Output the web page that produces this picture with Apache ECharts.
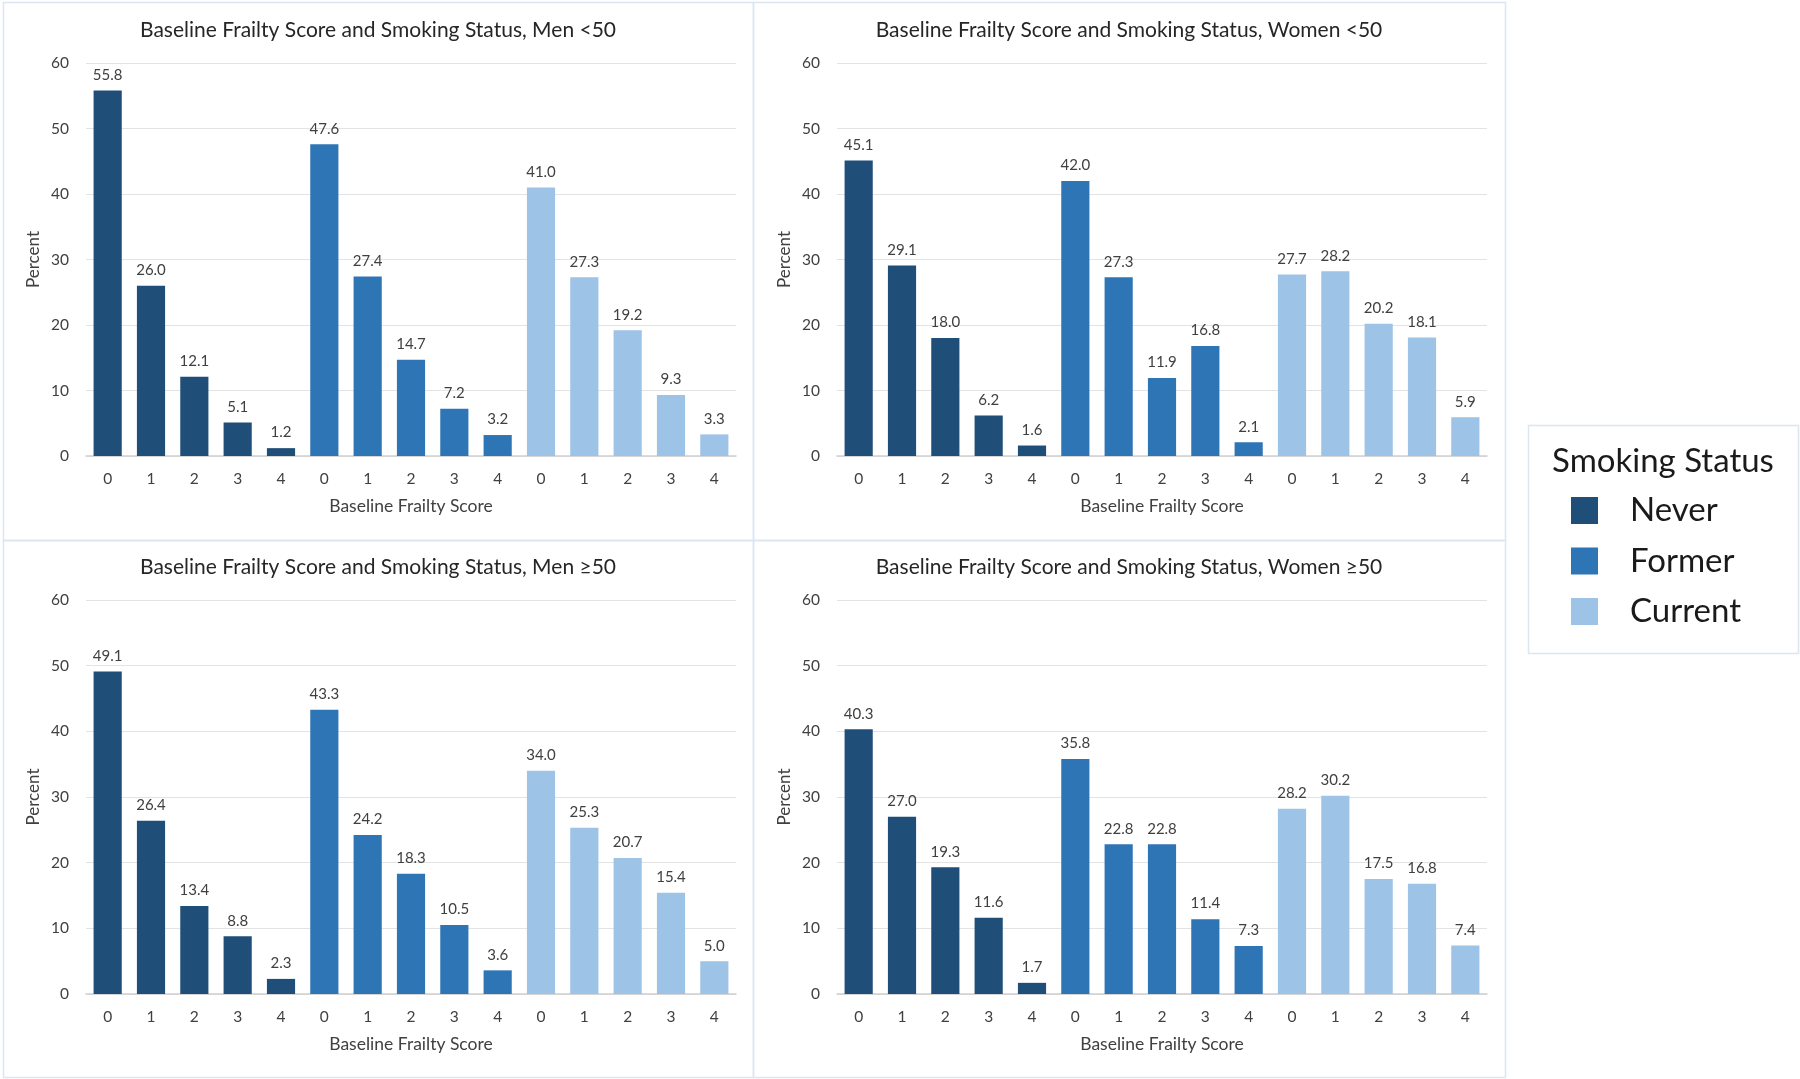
<!DOCTYPE html>
<html>
<head>
<meta charset="utf-8">
<script src="https://cdn.jsdelivr.net/npm/echarts@6/dist/echarts.min.js"></script>
<style>
html,body{margin:0;padding:0;background:#fff;}
#chart{width:1800px;height:1079px;}
</style>
</head>
<body>
<div id="chart"></div>
<script>
// ---- Data ----
var scoreLabels = ['0', '1', '2', '3', '4'];
var statusNames = ['Never', 'Former', 'Current'];
var panelTitles = [
  'Baseline Frailty Score and Smoking Status, Men <50',
  'Baseline Frailty Score and Smoking Status, Women <50',
  'Baseline Frailty Score and Smoking Status, Men \u226550',
  'Baseline Frailty Score and Smoking Status, Women \u226550'
];
var yTicks = [0, 10, 20, 30, 40, 50, 60];

var menUnder50Never   = [55.8, 26.0, 12.1, 5.1, 1.2];
var menUnder50Former  = [47.6, 27.4, 14.7, 7.2, 3.2];
var menUnder50Current = [41.0, 27.3, 19.2, 9.3, 3.3];

var womenUnder50Never   = [45.1, 29.1, 18.0, 6.2, 1.6];
var womenUnder50Former  = [42.0, 27.3, 11.9, 16.8, 2.1];
var womenUnder50Current = [27.7, 28.2, 20.2, 18.1, 5.9];

var men50PlusNever   = [49.1, 26.4, 13.4, 8.8, 2.3];
var men50PlusFormer  = [43.3, 24.2, 18.3, 10.5, 3.6];
var men50PlusCurrent = [34.0, 25.3, 20.7, 15.4, 5.0];

var women50PlusNever   = [40.3, 27.0, 19.3, 11.6, 1.7];
var women50PlusFormer  = [35.8, 22.8, 22.8, 11.4, 7.3];
var women50PlusCurrent = [28.2, 30.2, 17.5, 16.8, 7.4];

var panelData = [
  [menUnder50Never, menUnder50Former, menUnder50Current],
  [womenUnder50Never, womenUnder50Former, womenUnder50Current],
  [men50PlusNever, men50PlusFormer, men50PlusCurrent],
  [women50PlusNever, women50PlusFormer, women50PlusCurrent]
];

// ---- Styles / layout ----
var colors = ['#1F4E79', '#2E75B6', '#9DC3E6'];
var FONT = 'Lato, "Open Sans", sans-serif';
var textColor = '#404040';
var gridBoxes = [
  {left: 86, top: 63, width: 650, height: 393},
  {left: 837, top: 63, width: 650, height: 393},
  {left: 86, top: 600, width: 650, height: 394},
  {left: 837, top: 600, width: 650, height: 394}
];
var panelBoxes = [
  {x: 3, y: 2, w: 750, h: 538},
  {x: 753, y: 2, w: 752, h: 538},
  {x: 3, y: 540, w: 750, h: 537},
  {x: 753, y: 540, w: 752, h: 537}
];

var categories = [];
statusNames.forEach(function () { categories = categories.concat(scoreLabels); });

var grids = [], xAxes = [], yAxes = [], series = [], titles = [], graphics = [];

panelBoxes.forEach(function (b) {
  graphics.push({
    type: 'rect', silent: true, z: -1,
    shape: {x: b.x + 0.5, y: b.y + 0.5, width: b.w, height: b.h},
    style: {fill: 'none', stroke: '#DCE6F2', lineWidth: 1.5}
  });
});

panelData.forEach(function (groups, p) {
  var g = gridBoxes[p];
  var b = panelBoxes[p];
  grids.push({left: g.left, top: g.top, width: g.width, height: g.height, containLabel: false});
  titles.push({
    text: panelTitles[p],
    left: b.x + b.w / 2,
    top: g.top - 43,
    textAlign: 'center',
    padding: 0,
    textStyle: {fontFamily: FONT, fontSize: 21, fontWeight: 'normal', color: '#262626'}
  });
  xAxes.push({
    type: 'category', gridIndex: p, data: categories,
    name: 'Baseline Frailty Score', nameLocation: 'middle', nameGap: 41,
    nameTextStyle: {fontFamily: FONT, fontSize: 17.5, color: textColor},
    axisTick: {show: false},
    axisLine: {lineStyle: {color: '#D0D0D0', width: 1.5}},
    axisLabel: {fontFamily: FONT, fontSize: 15.5, color: textColor, margin: 15, interval: 0}
  });
  yAxes.push({
    type: 'value', gridIndex: p, min: yTicks[0], max: yTicks[yTicks.length - 1], interval: 10,
    name: 'Percent', nameLocation: 'middle', nameGap: 44, nameRotate: 90,
    nameTextStyle: {fontFamily: FONT, fontSize: 17, color: textColor},
    axisLine: {show: false}, axisTick: {show: false},
    splitLine: {lineStyle: {color: '#E3E3E3', width: 1.2}},
    axisLabel: {fontFamily: FONT, fontSize: 15.5, color: textColor, margin: 17}
  });
  groups.forEach(function (vals, s) {
    var data = [];
    for (var k = 0; k < groups.length; k++) {
      for (var i = 0; i < scoreLabels.length; i++) {
        data.push(k === s ? vals[i] : null);
      }
    }
    series.push({
      type: 'bar', name: statusNames[s], xAxisIndex: p, yAxisIndex: p,
      data: data, barGap: '-100%', barCategoryGap: '35%',
      itemStyle: {color: colors[s]},
      label: {
        show: true, position: 'top', distance: 8,
        fontFamily: FONT, fontSize: 15, color: textColor,
        formatter: function (d) { return d.value == null ? '' : Number(d.value).toFixed(1); }
      }
    });
  });
});

// Legend box & title
graphics.push({
  type: 'rect', silent: true,
  shape: {x: 1528.5, y: 425.5, width: 270, height: 228},
  style: {fill: '#fff', stroke: '#DCE6F2', lineWidth: 1.5}
});
graphics.push({
  type: 'text', silent: true, z: 10,
  style: {x: 1663, y: 461, text: 'Smoking Status', align: 'center', verticalAlign: 'middle',
          font: 'normal 33px ' + FONT, fill: '#1a1a1a'}
});

var option = {
  backgroundColor: '#ffffff',
  animation: false,
  title: titles,
  grid: grids,
  xAxis: xAxes,
  yAxis: yAxes,
  series: series,
  legend: {
    data: statusNames,
    orient: 'vertical',
    left: 1571, top: 494,
    padding: 0,
    itemWidth: 27, itemHeight: 27, itemGap: 17.5,
    icon: 'rect',
    selectedMode: false,
    z: 20,
    textStyle: {fontFamily: FONT, fontSize: 33, lineHeight: 30, color: '#1a1a1a', padding: [0, 0, 0, 27]}
  },
  graphic: graphics
};

var chart = echarts.init(document.getElementById('chart'), null, {renderer: 'canvas'});
chart.setOption(option);
</script>
</body>
</html>
